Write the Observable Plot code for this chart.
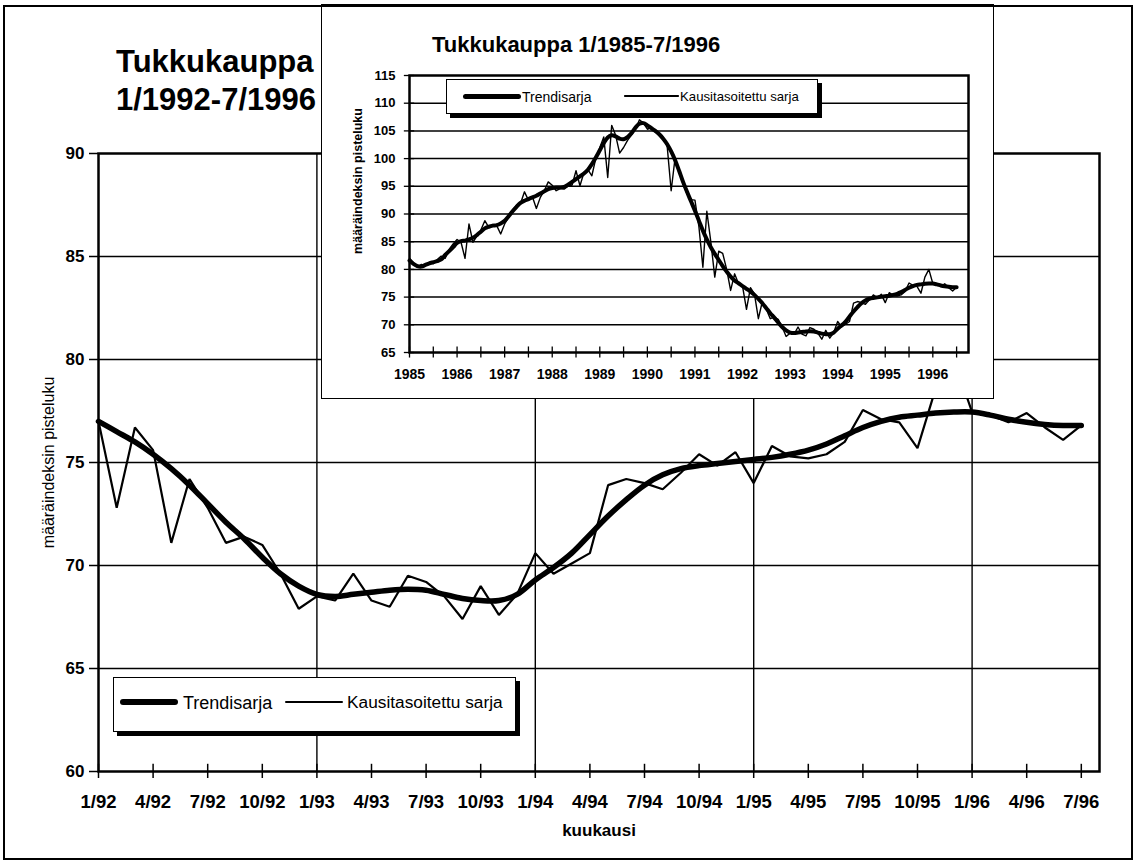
<!DOCTYPE html>
<html><head><meta charset="utf-8">
<script src="https://cdn.jsdelivr.net/npm/d3@7"></script>
<script src="https://cdn.jsdelivr.net/npm/@observablehq/plot@0.6"></script>
<style>
body{margin:0;background:#fff;}
#page{position:relative;width:1140px;height:864px;overflow:hidden;background:#fff;font-family:"Liberation Sans",Arial,sans-serif;color:#000;}
.legend{position:absolute;background:#fff;border:1.5px solid #000;box-sizing:border-box;box-shadow:4px 4px 0 #000;}
.sw{position:absolute;background:#000;}
.lt{position:absolute;white-space:nowrap;line-height:1;}
</style></head><body><div id="page"></div><script>
// ---------- data: main chart 1/1992-7/1996 ----------
const mainTickLabels = ["1/92","4/92","7/92","10/92","1/93","4/93","7/93","10/93","1/94","4/94","7/94","10/94","1/95","4/95","7/95","10/95","1/96","4/96","7/96"];
const mainTrend = [
  77.0,76.5,76.0,75.4,74.7,73.9,73.0,72.1,71.3,70.4,69.6,69.0,
  68.6,68.5,68.6,68.7,68.8,68.85,68.8,68.6,68.4,68.3,68.3,68.6,
  69.3,69.9,70.6,71.5,72.4,73.2,73.9,74.4,74.7,74.85,74.95,75.05,
  75.15,75.25,75.4,75.6,75.9,76.3,76.7,77.0,77.2,77.3,77.4,77.45,
  77.45,77.3,77.1,76.95,76.85,76.8,76.8];
const mainSA = [
  77.0,72.8,76.7,75.6,71.1,74.2,72.8,71.1,71.4,71.0,69.6,67.9,
  68.5,68.3,69.6,68.3,68.0,69.5,69.2,68.5,67.4,69.0,67.6,68.6,
  70.6,69.6,70.1,70.6,73.9,74.2,74.0,73.7,74.5,75.4,74.85,75.5,
  74.0,75.8,75.3,75.2,75.4,76.0,77.55,77.1,76.95,75.7,78.6,80.0,
  77.45,77.3,76.95,77.4,76.7,76.1,76.8];
const mainYTicks = [60,65,70,75,80,85,90];
// ---------- data: inset 1/1985-12/1991 (1992-1996 continues with the main series) ----------
const insetYearLabels = ["1985","1986","1987","1988","1989","1990","1991","1992","1993","1994","1995","1996"];
const trend85_91 = [
  81.6,81.0,80.6,80.5,80.8,81.1,81.3,81.5,81.8,82.6,83.3,84.0,
  84.8,85.1,85.2,85.4,85.7,86.2,86.8,87.4,87.7,87.9,88.0,88.3,
  88.8,89.6,90.5,91.3,92.0,92.4,92.7,93.0,93.3,93.7,94.1,94.5,
  94.7,94.8,94.8,94.9,95.3,95.8,96.3,96.8,97.3,98.0,99.0,100.2,
  101.5,102.8,103.8,104.2,104.0,103.6,103.5,103.9,104.6,105.6,106.3,106.4,
  106.0,105.5,105.0,104.4,103.6,102.6,101.3,99.7,97.8,95.8,94.0,92.3,
  90.6,88.8,87.0,85.4,84.0,82.8,81.7,80.6,79.6,78.7,78.0,77.5];
const sa85_91 = [
  82.0,81.2,80.4,80.9,80.6,81.3,81.0,81.8,82.4,82.0,83.6,84.6,
  85.4,84.9,82.0,88.2,84.9,86.0,87.1,88.8,87.6,88.1,87.9,86.4,
  88.2,89.4,90.7,91.6,91.9,94.0,92.5,93.1,91.0,93.0,94.2,95.8,
  95.2,94.2,94.6,94.5,95.0,95.2,97.8,95.1,97.5,98.0,96.9,100.1,
  102.0,103.9,96.6,106.0,104.2,101.0,102.0,103.3,104.3,105.3,107.0,106.4,
  105.3,105.6,104.8,104.5,103.8,102.2,94.2,100.2,97.5,95.5,93.6,92.6,
  92.5,87.7,80.4,90.5,85.0,78.6,83.3,82.9,80.0,76.2,79.2,77.4];
const insetYTicks = [65,70,75,80,85,90,95,100,105,110,115];

const titleMain = ["Tukkukauppa","1/1992-7/1996"];
const titleInset = "Tukkukauppa 1/1985-7/1996";
const yLabel = "määräindeksin pisteluku";
const xLabel = "kuukausi";
const legendNames = ["Trendisarja","Kausitasoitettu sarja"];

const FONT = '"Liberation Sans", Arial, sans-serif';
const page = document.getElementById("page");

// ---------- main chart ----------
const mainData = mainTrend.map((t,i)=>({i, trend:t, sa:mainSA[i]}));
const mainTickIdx = mainTickLabels.map((_,k)=>k*3);
const yearStartIdx = [12,24,36,48];
const mainPlot = Plot.plot({
  width:1140, height:864,
  marginLeft:98, marginRight:41, marginTop:153, marginBottom:93,
  style:{fontFamily:FONT, color:"#000", background:"transparent", overflow:"visible"},
  x:{domain:[0,55], axis:null, label:null},
  y:{domain:[60,90], axis:null, label:null},
  marks:[
    Plot.ruleY(mainYTicks.slice(1,-1), {stroke:"#000", strokeWidth:1.4}),
    Plot.ruleX(yearStartIdx, {stroke:"#000", strokeWidth:1.4}),
    Plot.ruleX(mainTickIdx, {y1:60, y2:60.35, stroke:"#000", strokeWidth:1.5}),
    Plot.axisY(mainYTicks, {label:null, tickSize:9, tickPadding:5, fontSize:17, fontWeight:"bold", stroke:"#000", strokeWidth:1.5}),
    Plot.axisX(mainTickIdx, {label:null, tickSize:7, tickPadding:16, fontSize:18.5, fontWeight:"bold", tickFormat:d=>mainTickLabels[d/3], stroke:"#000", strokeWidth:1.5}),
    Plot.frame({stroke:"#000", strokeWidth:2.5}),
    Plot.line(mainData, {x:"i", y:"sa", stroke:"#000", strokeWidth:2.2, strokeLinejoin:"miter"}),
    Plot.line(mainData, {x:"i", y:"trend", stroke:"#000", strokeWidth:5.5, curve:"catmull-rom"}),
    Plot.text([yLabel], {frameAnchor:"left", textAnchor:"middle", dx:-50, rotate:-90, fontSize:16}),
    Plot.text([xLabel], {frameAnchor:"bottom", dy:64, fontSize:17, fontWeight:"bold"})
  ]
});
mainPlot.style.position="absolute"; mainPlot.style.left="0px"; mainPlot.style.top="0px";
page.appendChild(mainPlot);

function addText(parent, txt, left, top, size, weight){
  const d=document.createElement("div");
  d.className="lt"; d.textContent=txt;
  d.style.left=left+"px"; d.style.top=top+"px"; d.style.fontSize=size+"px";
  d.style.fontWeight=weight||"normal";
  parent.appendChild(d); return d;
}
addText(page, titleMain[0], 116, 46, 31, "bold");
addText(page, titleMain[1], 116, 84, 31, "bold");

function legend(left, top, w, h, items){
  const L=document.createElement("div"); L.className="legend";
  Object.assign(L.style,{left:left+"px",top:top+"px",width:w+"px",height:h+"px"});
  items.forEach(it=>{
    const s=document.createElement("div"); s.className="sw";
    Object.assign(s.style,{left:it.x1+"px",top:(it.ly-it.lw/2)+"px",width:(it.x2-it.x1)+"px",height:it.lw+"px",borderRadius:(it.lw/2)+"px"});
    L.appendChild(s);
    addText(L, it.name, it.tx, it.ty, it.fs, "normal");
  });
  page.appendChild(L);
}
legend(113, 677, 403, 55, [
  {name:legendNames[0], x1:6, x2:64, ly:24, lw:6, tx:69, ty:16, fs:18},
  {name:legendNames[1], x1:171, x2:229, ly:24, lw:2.2, tx:233, ty:16, fs:17.3}
]);

// ---------- inset ----------
const insetTrend = trend85_91.concat(mainTrend);
const insetSA = sa85_91.concat(mainSA);
const insetData = insetTrend.map((t,i)=>({i, trend:t, sa:insetSA[i]}));
const insetTickIdx = d3.range(0, insetTrend.length, 6);
const insetYearIdx = insetYearLabels.map((_,k)=>k*12);

const box=document.createElement("div");
Object.assign(box.style,{position:"absolute",left:"322px",top:"5px",width:"671px",height:"393px",background:"#fff",outline:"1.5px solid #000"});
page.appendChild(box);
const insetPlot = Plot.plot({
  width:671, height:393,
  marginLeft:87, marginRight:25, marginTop:70, marginBottom:46,
  style:{fontFamily:FONT, color:"#000", background:"transparent", overflow:"visible"},
  x:{domain:[0,141], axis:null, label:null},
  y:{domain:[65,115], axis:null, label:null},
  marks:[
    Plot.ruleY(insetYTicks.slice(1,-1), {stroke:"#000", strokeWidth:1.5}),
    Plot.ruleX(insetTickIdx, {y1:64, y2:66, stroke:"#000", strokeWidth:1.3}),
    Plot.ruleY(insetYTicks, {x1:-1.3, x2:1.3, stroke:"#000", strokeWidth:1.3}),
    Plot.axisY(insetYTicks, {label:null, tickSize:0, tickPadding:14, fontSize:13, fontWeight:"bold"}),
    Plot.axisX(insetYearIdx, {label:null, tickSize:0, tickPadding:17, fontSize:14, fontWeight:"bold", tickFormat:d=>insetYearLabels[d/12]}),
    Plot.frame({stroke:"#000", strokeWidth:2.5}),
    Plot.line(insetData, {x:"i", y:"sa", stroke:"#000", strokeWidth:1.4}),
    Plot.line(insetData, {x:"i", y:"trend", stroke:"#000", strokeWidth:4, curve:"catmull-rom"}),
    Plot.text([yLabel], {frameAnchor:"left", textAnchor:"middle", dx:-52, dy:-33, rotate:-90, fontSize:12.5, fontWeight:"bold"})
  ]
});
insetPlot.style.position="absolute"; insetPlot.style.left="0px"; insetPlot.style.top="0px";
box.appendChild(insetPlot);
addText(box, titleInset, 110, 29, 22, "bold");
legend(446, 79, 372, 35, [
  {name:legendNames[0], x1:16, x2:74, ly:16, lw:5, tx:75, ty:10, fs:14},
  {name:legendNames[1], x1:177, x2:232, ly:16, lw:1.6, tx:233, ty:10, fs:13.2}
]);

// outer border
const ob=document.createElement("div");
Object.assign(ob.style,{position:"absolute",left:"3px",top:"5px",width:"1130px",height:"855px",border:"2px solid #000",boxSizing:"border-box",pointerEvents:"none"});
page.appendChild(ob);
</script></body></html>
